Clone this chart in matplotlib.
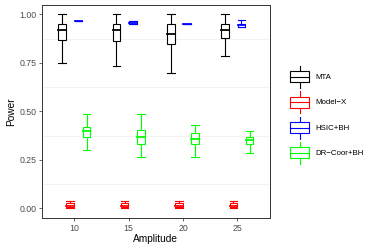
import matplotlib
matplotlib.use("Agg")
import matplotlib.pyplot as plt
from matplotlib.patches import Rectangle
from matplotlib.lines import Line2D
from matplotlib.legend_handler import HandlerBase
import numpy as np

plt.rcParams['font.family'] = ['Liberation Sans', 'DejaVu Sans']

amplitudes = ['10', '15', '20', '25']
methods = ['MTA', 'Model\u2212X', 'HSIC+BH', 'DR\u2212Coor+BH']
colors = ['#000000', '#FF0000', '#0000FF', '#00FF00']

# box stats per amplitude: (lower whisker, q1, median, q3, upper whisker)
mta = [(0.75, 0.866, 0.918, 0.95, 1.0),
       (0.735, 0.861, 0.918, 0.95, 1.0),
       (0.70, 0.85, 0.90, 0.95, 1.0),
       (0.783, 0.879, 0.918, 0.95, 1.0)]
model_x = [(0.0, 0.005, 0.013, 0.025, 0.037),
           (0.0, 0.005, 0.013, 0.025, 0.037),
           (0.0, 0.005, 0.013, 0.025, 0.037),
           (0.0, 0.005, 0.013, 0.025, 0.037)]
hsic = [(0.967, 0.967, 0.967, 0.967, 0.967),
        (0.95, 0.95, 0.955, 0.965, 0.965),
        (0.95, 0.95, 0.95, 0.95, 0.95),
        (0.933, 0.937, 0.945, 0.953, 0.97)]
drcoor = [(0.30, 0.366, 0.40, 0.418, 0.485),
          (0.266, 0.333, 0.368, 0.402, 0.485),
          (0.266, 0.333, 0.36, 0.387, 0.432),
          (0.283, 0.333, 0.351, 0.369, 0.40)]
all_stats = [mta, model_x, hsic, drcoor]
offsets = [-0.225, -0.075, 0.075, 0.225]
box_w = 0.14
lw = 0.8


def draw_box(ax, x, st, color, w):
    lo, q1, med, q3, hi = st
    ax.add_patch(Rectangle((x - w / 2, q1), w, q3 - q1, facecolor='white',
                           edgecolor=color, linewidth=lw, zorder=3))
    ax.plot([x - w / 2, x + w / 2], [med, med], color=color, lw=lw * 1.6, zorder=4)
    ax.plot([x, x], [q3, hi], color=color, lw=lw, zorder=2)
    ax.plot([x, x], [lo, q1], color=color, lw=lw, zorder=2)
    ax.plot([x - w / 2, x + w / 2], [hi, hi], color=color, lw=lw, zorder=2)
    ax.plot([x - w / 2, x + w / 2], [lo, lo], color=color, lw=lw, zorder=2)


class BoxHandler(HandlerBase):
    def create_artists(self, legend, orig_handle, xdescent, ydescent,
                       width, height, fontsize, trans):
        c = orig_handle.get_color()
        x0, y0 = -xdescent, -ydescent
        cx = x0 + width / 2
        arts = [
            Line2D([cx, cx], [y0, y0 + height * 0.25], color=c, lw=lw),
            Line2D([cx, cx], [y0 + height * 0.75, y0 + height], color=c, lw=lw),
            Rectangle((x0, y0 + height * 0.25), width, height * 0.5,
                      facecolor='white', edgecolor=c, lw=lw),
            Line2D([x0, x0 + width], [y0 + height / 2] * 2, color=c, lw=lw),
        ]
        for a in arts:
            a.set_transform(trans)
        return arts


fig = plt.figure(figsize=(3.74, 2.49), dpi=100)
ax = fig.add_axes([0.1115, 0.1245, 0.6105, 0.8565])

for s, col, off in zip(all_stats, colors, offsets):
    for i, st in enumerate(s):
        draw_box(ax, i + 1 + off, st, col, box_w)

ax.set_xlim(0.4, 4.6)
ax.set_ylim(-0.05, 1.05)
ax.set_xticks(range(1, len(amplitudes) + 1))
ax.set_xticklabels(amplitudes)
ax.set_yticks([0, 0.25, 0.5, 0.75, 1.0])
ax.set_yticklabels(['0.00', '0.25', '0.50', '0.75', '1.00'])
for g in [0.125, 0.375, 0.625, 0.875]:
    ax.axhline(g, color='#F0F0F0', lw=0.6, zorder=0)
ax.tick_params(axis='both', labelsize=6.3, colors='#4D4D4D', length=2.5,
               width=0.6, pad=1.5)
for sp in ax.spines.values():
    sp.set_color('#333333')
    sp.set_linewidth(0.7)
ax.set_xlabel('Amplitude', fontsize=7.3, labelpad=1)
ax.set_ylabel('Power', fontsize=7.3, labelpad=2)

handles = [Line2D([], [], color=c) for c in colors]
fig.legend(handles, methods, handler_map={Line2D: BoxHandler()},
           loc='upper left', bbox_to_anchor=(0.766, 0.748), frameon=False,
           fontsize=5.7, handlelength=2.5, handleheight=3.9,
           labelspacing=0.42, handletextpad=0.8, borderaxespad=0)

fig.savefig('out.png', dpi=100)
